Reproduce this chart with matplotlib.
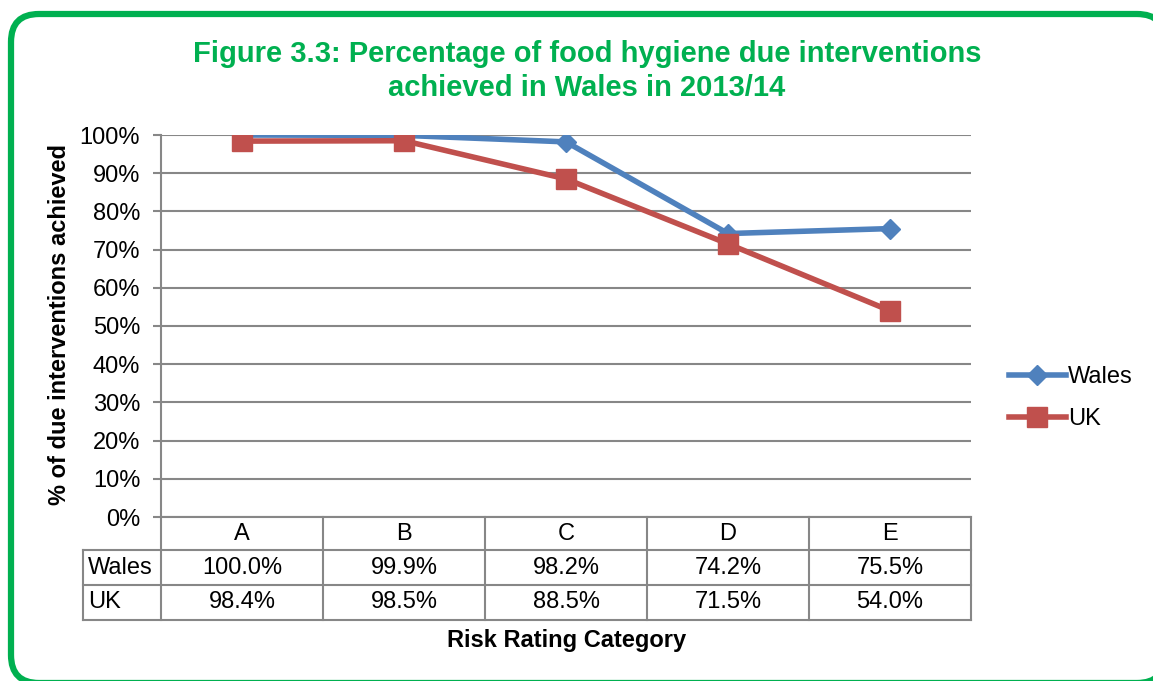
import matplotlib.pyplot as plt
import numpy as np
from matplotlib.patches import FancyBboxPatch
from matplotlib.transforms import IdentityTransform
from matplotlib.ticker import FuncFormatter

plt.rcParams['font.family'] = ['Liberation Sans', 'DejaVu Sans']

## data
categories = ['A', 'B', 'C', 'D', 'E']
wales = [100.0, 99.9, 98.2, 74.2, 75.5]
uk = [98.4, 98.5, 88.5, 71.5, 54.0]
series_names = ['Wales', 'UK']

green = '#00B050'
blue = '#4F81BD'
red = '#C0504D'
grey = '#878787'

fig = plt.figure(figsize=(11.53, 6.81), dpi=100)

## green rounded frame, in pixel coords
frame = FancyBboxPatch((11, -2), 1154, 669, boxstyle="round,pad=0,rounding_size=28",
                       transform=IdentityTransform(), facecolor='white', edgecolor=green,
                       linewidth=4.5, zorder=-10)
fig.patches.append(frame)

ax = fig.add_axes([161/1153, 1 - 517/681, 810/1153, 382/681])
x = np.arange(len(categories))
ax.plot(x, wales, color=blue, lw=4, marker='D', ms=10, label='Wales', zorder=3)
ax.plot(x, uk, color=red, lw=4, marker='s', ms=14, label='UK', zorder=4)

ax.set_xlim(-0.5, len(categories) - 0.5)
ax.set_ylim(0, 100)
ax.set_yticks(np.arange(0, 101, 10))
ax.yaxis.set_major_formatter(FuncFormatter(lambda v, p: '%d%%' % v))
ax.tick_params(axis='y', labelsize=17, length=6, width=1.5, color=grey, pad=9)
ax.set_xticks([])
ax.grid(axis='y', color=grey, lw=1.5)
ax.set_axisbelow(True)
for s in ['top', 'right']:
    ax.spines[s].set_visible(False)
for s in ['left', 'bottom']:
    ax.spines[s].set_color(grey)
    ax.spines[s].set_linewidth(1.5)
ax.set_facecolor('none')

## data table under the axis (x in category units, y in axes fraction)
tr = ax.get_xaxis_transform()
px = 1 / 382                       # one pixel in axes-fraction units
row_edges = [0, -33 * px, -68 * px, -103 * px]
lab_left = -0.5 - 78 / 162
line_kw = dict(color=grey, lw=1.5, transform=tr, clip_on=False)
for xe in np.arange(-0.5, len(categories), 1.0):
    ax.plot([xe, xe], [row_edges[0], row_edges[-1]], **line_kw)
ax.plot([lab_left, lab_left], [row_edges[1], row_edges[-1]], **line_kw)
for ye in row_edges[1:]:
    ax.plot([lab_left, len(categories) - 0.5], [ye, ye], **line_kw)

for i, c in enumerate(categories):
    ax.text(i, (row_edges[0] + row_edges[1]) / 2, c, transform=tr, ha='center', va='center', fontsize=17)
for r, (name, vals) in enumerate(zip(series_names, [wales, uk])):
    yc = (row_edges[r + 1] + row_edges[r + 2]) / 2
    ax.text(lab_left + 5 / 162, yc, name, transform=tr, ha='left', va='center', fontsize=17)
    for i, v in enumerate(vals):
        ax.text(i, yc, '%.1f%%' % v, transform=tr, ha='center', va='center', fontsize=17)

fig.text(60/1153, 1 - 325/681, '% of due interventions achieved', rotation=90, ha='center', va='center',
         fontsize=17, fontweight='bold')

fig.text(567/1153, 1 - 640/681, 'Risk Rating Category', ha='center', va='center',
         fontsize=17, fontweight='bold')

fig.text(587/1153, 1 - 71/681, 'Figure 3.3: Percentage of food hygiene due interventions\nachieved in Wales in 2013/14',
         ha='center', va='center', fontsize=21, fontweight='bold', color=green, linespacing=1.28)

fig.legend(loc='center left', bbox_to_anchor=(1009/1153, 1 - 398/681), frameon=False,
           fontsize=17, handlelength=2.4, handletextpad=0.1, labelspacing=0.85,
           borderpad=0, borderaxespad=0)

fig.savefig('out.png', dpi=100)
